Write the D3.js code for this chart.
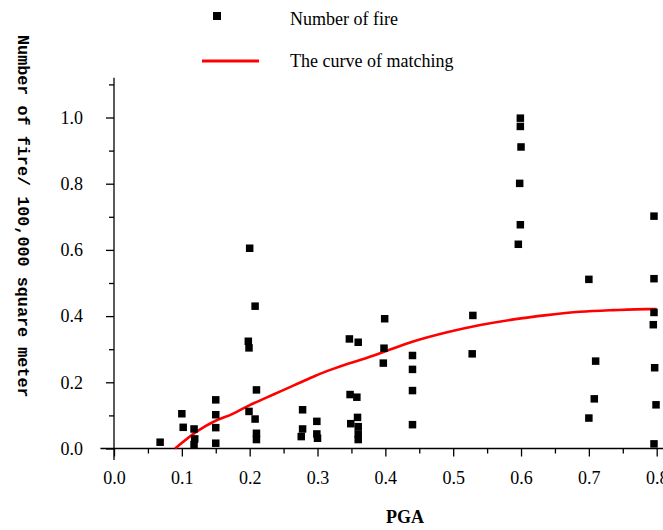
<!DOCTYPE html>
<html>
<head>
<meta charset="utf-8">
<script src="https://cdn.jsdelivr.net/npm/d3@7"></script>
<style>
  body { margin: 0; background: #fff; }
  svg { display: block; }
</style>
</head>
<body>
<div id="chart"></div>
<script>
var width = 663;
var height = 530;

// scatter points (PGA, fires per 100,000 m2)
var pga = [0.068, 0.100, 0.102, 0.118, 0.119, 0.118, 0.150, 0.150, 0.150, 0.150,
  0.200, 0.198, 0.199, 0.199, 0.208, 0.210, 0.208, 0.210, 0.210,
  0.278, 0.278, 0.276, 0.299, 0.299, 0.300,
  0.347, 0.360, 0.348, 0.358, 0.359, 0.349, 0.360, 0.360, 0.360,
  0.399, 0.398, 0.397, 0.440, 0.440, 0.440, 0.440, 0.529, 0.528,
  0.599, 0.599, 0.600, 0.598, 0.599, 0.596,
  0.700, 0.710, 0.708, 0.700,
  0.796, 0.796, 0.796, 0.795, 0.797, 0.799, 0.796];
var fires = [0.019, 0.105, 0.064, 0.059, 0.029, 0.012, 0.147, 0.102, 0.063, 0.016,
  0.605, 0.324, 0.304, 0.112, 0.430, 0.177, 0.089, 0.046, 0.027,
  0.117, 0.059, 0.036, 0.082, 0.044, 0.031,
  0.331, 0.321, 0.163, 0.155, 0.094, 0.075, 0.066, 0.044, 0.027,
  0.392, 0.303, 0.258, 0.281, 0.239, 0.175, 0.072, 0.402, 0.286,
  0.998, 0.973, 0.911, 0.801, 0.676, 0.617,
  0.511, 0.264, 0.150, 0.092,
  0.702, 0.513, 0.411, 0.374, 0.244, 0.132, 0.014];

// fitted curve
var curvePga = [0.090, 0.124, 0.149, 0.174, 0.198, 0.223, 0.247, 0.272, 0.297, 0.321, 0.346,
  0.370, 0.394, 0.441, 0.491, 0.540, 0.589, 0.638, 0.687, 0.736, 0.786, 0.800];
var curveFire = [0.000, 0.054, 0.083, 0.104, 0.129, 0.152, 0.174, 0.197, 0.220, 0.239, 0.257,
  0.272, 0.289, 0.323, 0.351, 0.373, 0.390, 0.403, 0.413, 0.418, 0.421, 0.421];

var xMajor = [0, 0.1, 0.2, 0.3, 0.4, 0.5, 0.6, 0.7, 0.8];
var xMinor = [0.05, 0.15, 0.25, 0.35, 0.45, 0.55, 0.65, 0.75];
var yMajor = [0, 0.2, 0.4, 0.6, 0.8, 1.0];
var yMinor = [0.1, 0.3, 0.5, 0.7, 0.9, 1.1];

var legendNames = ["Number of fire", "The curve of matching"];
var xTitle = "PGA";
var yTitle = "Number of fire/ 100,000 square meter";

var x = d3.scaleLinear().domain([0, 0.8]).range([114, 656.7]);
var y = d3.scaleLinear().domain([0, 1]).range([448.5, 117.5]);

var svg = d3.select("#chart").append("svg")
  .attr("width", width)
  .attr("height", height);

var serif = "'Liberation Serif', 'Times New Roman', serif";

// x axis, majors and minors in their own groups
var gx = svg.append("g").attr("transform", "translate(0," + y(0) + ")");
gx.call(d3.axisBottom(x).tickValues(xMajor).tickSize(8).tickFormat(d3.format(".1f")));
var gxm = svg.append("g").attr("transform", "translate(0," + y(0) + ")");
gxm.call(d3.axisBottom(x).tickValues(xMinor).tickSize(5).tickFormat(""));

// y axis
var gy = svg.append("g").attr("transform", "translate(" + x(0) + ",0)");
gy.call(d3.axisLeft(y).tickValues(yMajor).tickSize(8).tickFormat(d3.format(".1f")));
var gym = svg.append("g").attr("transform", "translate(" + x(0) + ",0)");
gym.call(d3.axisLeft(y).tickValues(yMinor).tickSize(5).tickFormat(""));

[gx, gxm, gy, gym].forEach(function(g) {
  g.selectAll(".domain").remove();
  g.selectAll("line").attr("stroke", "#000").attr("stroke-width", 1.3);
  g.selectAll("text")
    .style("font-family", serif)
    .style("font-size", "18px")
    .attr("fill", "#000");
});
gx.selectAll("text").attr("y", 23).attr("dy", "0.71em");
gy.selectAll("text").attr("x", -31);

// axis lines
svg.append("line")
  .attr("x1", x(-0.02)).attr("x2", width)
  .attr("y1", y(0)).attr("y2", y(0))
  .attr("stroke", "#000").attr("stroke-width", 1.3);
svg.append("line")
  .attr("x1", x(0)).attr("x2", x(0))
  .attr("y1", y(1.12)).attr("y2", y(-0.035))
  .attr("stroke", "#000").attr("stroke-width", 1.3);

// titles
svg.append("text")
  .attr("x", 405).attr("y", 523)
  .attr("text-anchor", "middle")
  .style("font-family", serif)
  .style("font-size", "18px")
  .style("font-weight", "bold")
  .text(xTitle);

svg.append("text")
  .attr("transform", "translate(18,35) rotate(90)")
  .style("font-family", "'Liberation Mono', 'Courier New', monospace")
  .style("font-size", "16.8px")
  .style("font-weight", "bold")
  .text(yTitle);

// fitted curve
var line = d3.line()
  .x(function(d, i) { return x(curvePga[i]); })
  .y(function(d, i) { return y(curveFire[i]); })
  .curve(d3.curveMonotoneX);

svg.append("path")
  .attr("d", line(curvePga))
  .attr("fill", "none")
  .attr("stroke", "#ff0000")
  .attr("stroke-width", 2.6);

// scatter squares
var sq = 7.5;
svg.append("g").selectAll("rect")
  .data(pga)
  .enter()
  .append("rect")
  .attr("x", function(d) { return x(d) - sq / 2; })
  .attr("y", function(d, i) { return y(fires[i]) - sq / 2; })
  .attr("width", sq)
  .attr("height", sq)
  .attr("fill", "#000");

// legend
var lg = svg.append("g");
lg.append("rect")
  .attr("x", 213).attr("y", 12)
  .attr("width", 8).attr("height", 8)
  .attr("fill", "#000");
lg.append("line")
  .attr("x1", 202).attr("x2", 259)
  .attr("y1", 61).attr("y2", 61)
  .attr("stroke", "#ff0000").attr("stroke-width", 3);
lg.selectAll("text.leg")
  .data(legendNames)
  .enter()
  .append("text")
  .attr("class", "leg")
  .attr("x", 290)
  .attr("y", function(d, i) { return 25 + i * 42; })
  .style("font-family", serif)
  .style("font-size", "18px")
  .text(function(d) { return d; });
</script>
</body>
</html>
